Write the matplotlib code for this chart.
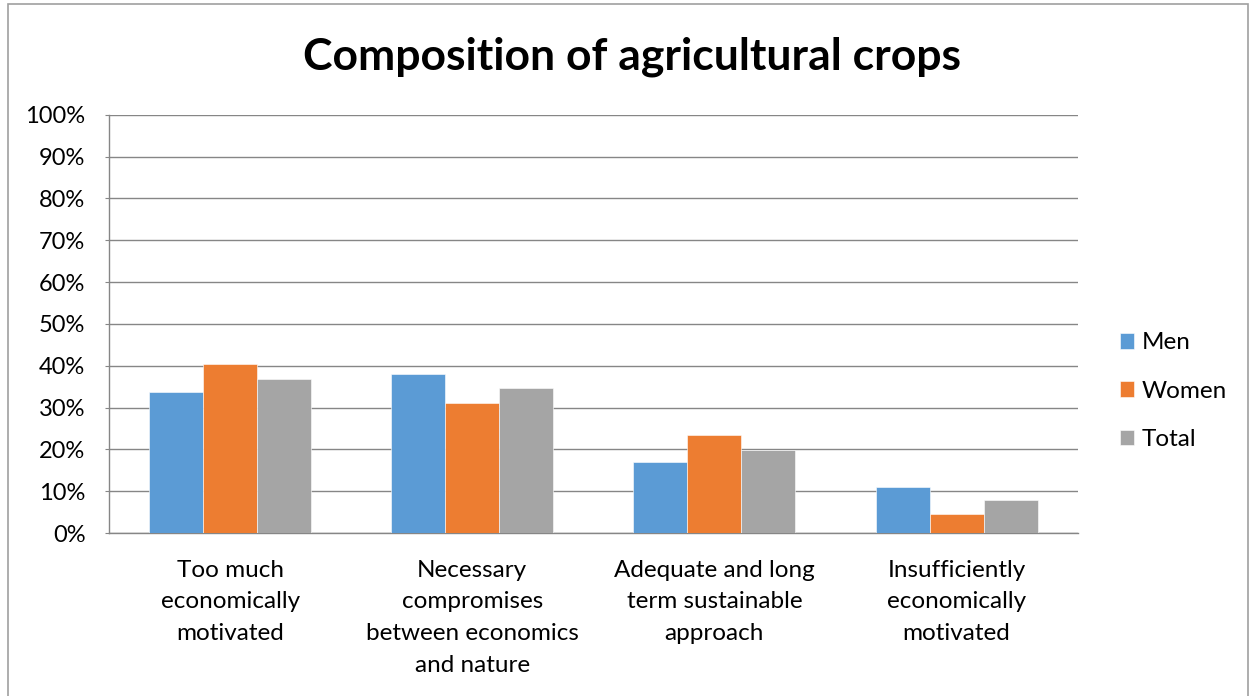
import matplotlib.pyplot as plt
import matplotlib.patches as patches
import numpy as np

plt.rcParams['font.family'] = ['Lato', 'DejaVu Sans']

# data
categories = ['Too much\neconomically\nmotivated',
              'Necessary\ncompromises\nbetween economics\nand nature',
              'Adequate and long\nterm sustainable\napproach',
              'Insufficiently\neconomically\nmotivated']
men = [33.7, 38.0, 16.9, 11.1]
women = [40.5, 31.1, 23.4, 4.5]
total = [36.9, 34.6, 19.9, 8.0]
series_names = ['Men', 'Women', 'Total']
colors = ['#5B9BD5', '#ED7D31', '#A5A5A5']

fig = plt.figure(figsize=(12.53, 6.96), dpi=100)
ax = fig.add_axes([0.087, 0.234, 0.773, 0.601])

x = np.arange(len(categories))
w = 0.223
for i, vals in enumerate([men, women, total]):
    ax.bar(x + (i - 1) * w, vals, width=w, color=colors[i],
           edgecolor='white', linewidth=0.4, label=series_names[i], zorder=3)

ax.set_xlim(-0.5, len(categories) - 0.5)
ax.set_ylim(0, 100)
ax.set_yticks(np.arange(0, 101, 10))
ax.set_yticklabels([f'{v}%' for v in range(0, 101, 10)])
ax.set_xticks(x)
ax.set_xticklabels(categories, linespacing=1.63)

ax.grid(axis='y', color='#868686', linewidth=1.0, zorder=0)
for s in ['top', 'right']:
    ax.spines[s].set_visible(False)
for s in ['left', 'bottom']:
    ax.spines[s].set_color('#868686')
    ax.spines[s].set_linewidth(1.0)
ax.tick_params(axis='y', length=3, color='#868686', labelsize=17,
               labelcolor='#000000', pad=14)
ax.tick_params(axis='x', length=0, labelsize=17.5, labelcolor='#000000', pad=19)

fig.text(0.504, 0.918, 'Composition of agricultural crops', ha='center',
         va='center', fontsize=32, fontweight='bold')

fig.legend(loc='center left', bbox_to_anchor=(0.884, 0.438), frameon=False,
           fontsize=17.5, handlelength=0.6, handleheight=0.6,
           handletextpad=0.3, labelspacing=1.12, borderpad=0)

# outer border
fig.patches.append(patches.Rectangle((0.006, -0.01), 0.99, 1.004,
                                     transform=fig.transFigure, fill=False,
                                     edgecolor='#A0A0A0', linewidth=1.2))

fig.savefig('out.png', dpi=100)
